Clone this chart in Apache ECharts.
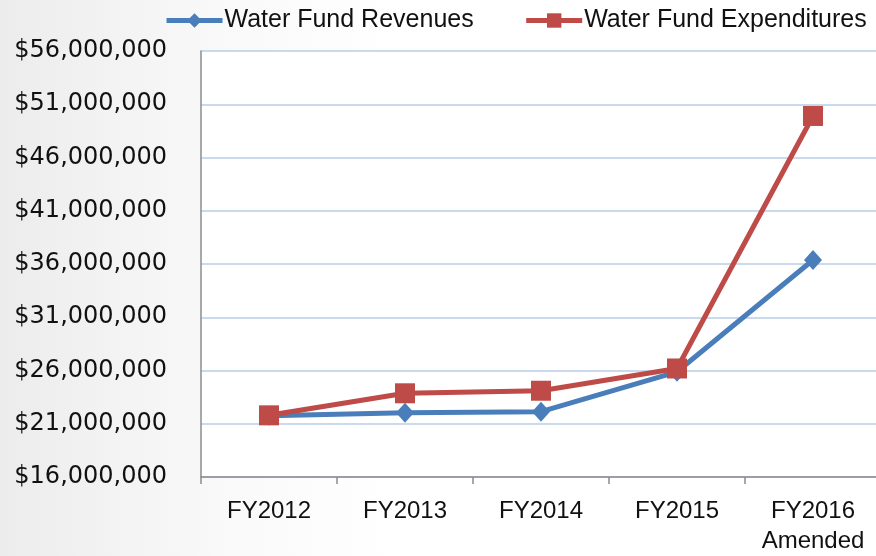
<!DOCTYPE html>
<html>
<head>
<meta charset="utf-8">
<script src="https://cdn.jsdelivr.net/npm/echarts@6/dist/echarts.min.js"></script>
<style>html,body{margin:0;padding:0;overflow:hidden;}#c{width:886px;height:556px;}</style>
</head>
<body>
<div id="c"></div>
<script>
const categories = ['FY2012', 'FY2013', 'FY2014', 'FY2015', 'FY2016\nAmended'];
const revenues = [21750000, 22030000, 22130000, 25880000, 36380000];
const expenditures = [21790000, 23860000, 24100000, 26190000, 49900000];
const seriesNames = ['Water Fund Revenues', 'Water Fund Expenditures'];
const yMin = 16000000, yMax = 56000000, yStep = 5000000;

const FONT = 'Liberation Sans';
const chart = echarts.init(document.getElementById('c'));
chart.setOption({
  animation: false,
  backgroundColor: {
    type: 'linear', x: 0, y: 0, x2: 1, y2: 0,
    colorStops: [{offset: 0, color: '#ececec'}, {offset: 0.25, color: '#f9f9f9'}, {offset: 0.45, color: '#ffffff'}, {offset: 1, color: '#ffffff'}]
  },
  textStyle: {fontFamily: FONT},
  legend: {
    data: seriesNames,
    left: 159, top: 3,
    itemWidth: 56, itemHeight: 18, itemGap: 50,
    lineStyle: {width: 5},
    textStyle: {fontFamily: FONT, fontSize: 25, color: '#111', padding: [0, 0, 0, -3]}
  },
  grid: {left: 201, right: 5, top: 51, bottom: 79, backgroundColor: '#fff', show: true, borderWidth: 0},
  xAxis: {
    type: 'category',
    data: categories,
    boundaryGap: true,
    axisLine: {lineStyle: {color: '#8c8c8c', width: 1.5}},
    axisTick: {show: true, length: 7, lineStyle: {color: '#8c8c8c', width: 1.5}},
    axisLabel: {fontFamily: FONT, fontSize: 24, color: '#111', margin: 19, lineHeight: 30, interval: 0}
  },
  yAxis: {
    type: 'value',
    min: yMin, max: yMax, interval: yStep,
    axisLine: {show: true, lineStyle: {color: '#8c8c8c', width: 1.5}},
    axisTick: {show: false},
    splitLine: {lineStyle: {color: '#b9cde5', width: 1.6}},
    axisLabel: {
      fontFamily: 'DejaVu Sans', fontSize: 24, color: '#111', margin: 34,
      formatter: v => '$' + v.toLocaleString('en-US')
    }
  },
  series: [
    {
      name: seriesNames[0], type: 'line', data: revenues,
      symbol: 'diamond', symbolSize: [18, 20],
      lineStyle: {color: '#4a7ebb', width: 5},
      itemStyle: {color: '#4a7ebb'},
      z: 2
    },
    {
      name: seriesNames[1], type: 'line', data: expenditures,
      symbol: 'rect', symbolSize: 20,
      lineStyle: {color: '#be4b48', width: 5},
      itemStyle: {color: '#be4b48'},
      z: 3
    }
  ]
});
</script>
</body>
</html>
